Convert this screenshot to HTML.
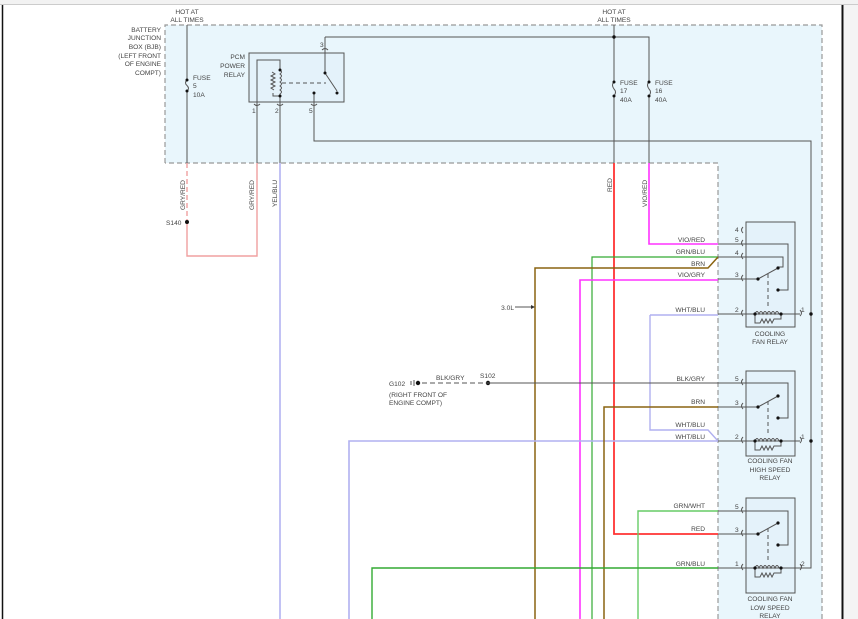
<!DOCTYPE html>
<html><head><meta charset="utf-8"><style>
html,body{margin:0;padding:0;background:#fff;}
svg{display:block;}
text{font-family:"Liberation Sans",sans-serif;font-size:6.6px;fill:#444;}
</style></head><body>
<svg width="858" height="619" viewBox="0 0 858 619" xmlns="http://www.w3.org/2000/svg">
<rect x="0" y="0" width="858" height="4" fill="#f2f2f2"/>
<line x1="0" y1="4.5" x2="858" y2="4.5" stroke="#ccc" stroke-width="1"/>
<line x1="2.5" y1="5" x2="2.5" y2="619" stroke="#111" stroke-width="1.5"/>
<line x1="842.5" y1="5" x2="842.5" y2="619" stroke="#111" stroke-width="2"/>
<rect x="844" y="5" width="14" height="614" fill="#f4f4f4"/>

<polygon points="165,25 822,25 822,619 718,619 718,163 165,163" fill="#e9f6fc"/>
<path d="M165,163 L165,25 L822,25 L822,619 M718,619 L718,163 L165,163" fill="none" stroke="#999" stroke-width="1.2" stroke-dasharray="5,3"/>

<g stroke="#555" stroke-width="1" fill="none">
<path d="M187,25 V80 M187,91 V163"/>
<path d="M187,80 q-3,3 0,5.5 q3,3 0,5.5"/>
<rect x="249" y="53" width="95" height="49" fill="#e4f2fa"/>
<path d="M257,102 V60 H280 V70 M280,96 V102"/>
<path d="M272,72 l3,2 -4,2 4,2 -4,2 4,2 -4,2 4,2 -4,2 3,2"/>
<path d="M280,70 q3,2 0,4 q3,2 0,4 q3,2 0,4 q3,2 0,4 q3,2 0,4 q3,2 0,4 V96 H273 V93"/>
<path d="M282,83 H326" stroke-dasharray="4,3"/>
<path d="M325,53 V73 L337,91 M314,102 V92"/>
<path d="M325,37 H649 V82 M649,96 V163 M614,25 V82 M614,96 V163"/>
<path d="M325,53 V37"/>
<path d="M314,102 V141 H811 V568 H800"/>
<path d="M614,82 q-3,3 0,7 q3,3 0,7 M649,82 q-3,3 0,7 q3,3 0,7"/>
<path d="M254,104 q3,3 6,0 M277,104 q3,3 6,0 M311,104 q3,3 6,0 M322,50 q3,-3 6,0"/>
<path d="M257,163 V102 M280,163 V102"/>
</g>
<g fill="#111">
<circle cx="187" cy="80" r="1.5"/><circle cx="187" cy="91" r="1.5"/>
<circle cx="614" cy="37" r="1.7"/>
<circle cx="614" cy="82" r="1.5"/><circle cx="614" cy="96" r="1.5"/>
<circle cx="649" cy="82" r="1.5"/><circle cx="649" cy="96" r="1.5"/>
<circle cx="280" cy="70" r="1.5"/><circle cx="280" cy="96" r="1.5"/>
<circle cx="325" cy="73" r="1.5"/><circle cx="337" cy="93" r="1.5"/><circle cx="314" cy="93" r="1.5"/>
<circle cx="418" cy="383" r="2.2"/><circle cx="488" cy="383" r="2.2"/>
<circle cx="811" cy="314" r="1.7"/><circle cx="811" cy="441" r="1.7"/>
</g>

<g fill="none" stroke-width="1.4">
<path d="M187,163 V222" stroke="#f0a0a0" stroke-dasharray="5,3"/>
<path d="M187,222 V256 H257 V163" stroke="#f0a0a0"/>
<path d="M280,163 V619" stroke="#a8a8f0"/>
<path d="M614,163 V534 H718" stroke="#f33" stroke-width="1.8"/>
<path d="M649,163 V244 H718" stroke="#f3f" stroke-width="1.6"/>
<path d="M592,619 V257 H718" stroke="#3a3" stroke-width="1.2"/>
<path d="M535,619 V268 H708 L718,257" stroke="#8a6410" stroke-width="1.5"/>
<path d="M580,619 V280 H718" stroke="#f3f" stroke-width="1.6"/>
<path d="M650,315 H718 M650,315 V430 H708 L718,441" stroke="#b0b0f0" stroke-width="1.4"/>
<path d="M349,619 V441 H718" stroke="#b0b0f0" stroke-width="1.6"/>
<path d="M604,619 V407 H718" stroke="#8a6410" stroke-width="1.5"/>
<path d="M638,619 V511 H718" stroke="#6c6" stroke-width="1.4"/>
<path d="M372,619 V568 H718" stroke="#3a3" stroke-width="1.4"/>
</g>
<circle cx="187" cy="222" r="2" fill="#111"/>
<g stroke="#555" stroke-width="1" fill="none">
<path d="M488,383 H718"/>
<path d="M422,383 H488" stroke-dasharray="5,3"/>
<path d="M414,380 v6 M411,381 v4"/>
<path d="M515,307 H533"/>
</g>
<polygon points="535,307 531,305 531,309" fill="#333"/>

<g stroke="#555" stroke-width="1" fill="none">
<rect x="746" y="222" width="49" height="105" fill="#e4f2fa"/>
<path d="M718,244 H788 V290 H778 M718,257 H783 V267 H778"/>
<path d="M718,279 H758 L778,268"/>
<path d="M718,314 H800"/>
<path d="M768,274 V306" stroke-dasharray="4,3"/>
<path d="M755,314 q2,-5 4,0 q2,-5 4,0 q2,-5 4,0 q2,-5 4,0 q2,-5 4,0 q2,-5 4,0 M755,314 V323 H760 l2,-4 2,4 2,-4 2,4 2,-4 2,4 2,-4 H781 V314"/>
<path d="M743,227 q-3,3 0,6 M743,240 q-3,3 0,6 M743,253 q-3,3 0,6 M743,275 q-3,3 0,6 M743,310 q-3,3 0,6 M800,310 q3,3 0,6"/>
<rect x="746" y="371" width="49" height="85" fill="#e4f2fa"/>
<path d="M718,383 H788 V418 H778"/>
<path d="M718,407 H758 L778,396"/>
<path d="M768,401 V433" stroke-dasharray="4,3"/>
<path d="M718,441 H800"/>
<path d="M755,441 q2,-5 4,0 q2,-5 4,0 q2,-5 4,0 q2,-5 4,0 q2,-5 4,0 q2,-5 4,0 M755,441 V450 H760 l2,-4 2,4 2,-4 2,4 2,-4 2,4 2,-4 H781 V441"/>
<path d="M743,379 q-3,3 0,6 M743,403 q-3,3 0,6 M743,437 q-3,3 0,6 M800,437 q3,3 0,6"/>
<rect x="746" y="498" width="49" height="95" fill="#e4f2fa"/>
<path d="M718,511 H788 V545 H778"/>
<path d="M718,534 H758 L778,523"/>
<path d="M768,528 V560" stroke-dasharray="4,3"/>
<path d="M718,568 H800"/>
<path d="M755,568 q2,-5 4,0 q2,-5 4,0 q2,-5 4,0 q2,-5 4,0 q2,-5 4,0 q2,-5 4,0 M755,568 V577 H760 l2,-4 2,4 2,-4 2,4 2,-4 2,4 2,-4 H781 V568"/>
<path d="M743,507 q-3,3 0,6 M743,530 q-3,3 0,6 M743,564 q-3,3 0,6 M800,564 q3,3 0,6"/>
</g>
<g fill="#111">
<circle cx="778" cy="290" r="1.6"/><circle cx="778" cy="268" r="1.6"/><circle cx="758" cy="279" r="1.6"/>
<circle cx="755" cy="314" r="1.6"/><circle cx="781" cy="314" r="1.6"/>
<circle cx="778" cy="418" r="1.6"/><circle cx="778" cy="396" r="1.6"/><circle cx="758" cy="407" r="1.6"/>
<circle cx="755" cy="441" r="1.6"/><circle cx="781" cy="441" r="1.6"/>
<circle cx="778" cy="545" r="1.6"/><circle cx="778" cy="523" r="1.6"/><circle cx="758" cy="534" r="1.6"/>
<circle cx="755" cy="568" r="1.6"/><circle cx="781" cy="568" r="1.6"/>
</g>

<g>
<text x="187" y="14" text-anchor="middle">HOT AT</text>
<text x="187" y="22" text-anchor="middle">ALL TIMES</text>
<text x="614" y="14" text-anchor="middle">HOT AT</text>
<text x="614" y="22" text-anchor="middle">ALL TIMES</text>
<g text-anchor="end">
<text x="161" y="32">BATTERY</text><text x="161" y="40">JUNCTION</text><text x="161" y="49">BOX (BJB)</text>
<text x="161" y="58">(LEFT FRONT</text><text x="161" y="66">OF ENGINE</text><text x="161" y="75">COMPT)</text>
<text x="245" y="59">PCM</text><text x="245" y="68">POWER</text><text x="245" y="77">RELAY</text>
</g>
<text x="193" y="80">FUSE</text><text x="193" y="88">5</text><text x="193" y="97">10A</text>
<text x="620" y="85">FUSE</text><text x="620" y="93">17</text><text x="620" y="102">40A</text>
<text x="655" y="85">FUSE</text><text x="655" y="93">16</text><text x="655" y="102">40A</text>
<text x="320" y="47">3</text><text x="252" y="113">1</text><text x="275" y="113">2</text><text x="309" y="113">5</text>
<text x="166" y="225">S140</text>
<text transform="translate(185,210) rotate(-90)">GRY/RED</text>
<text transform="translate(254,210) rotate(-90)">GRY/RED</text>
<text transform="translate(277,207) rotate(-90)">YEL/BLU</text>
<text transform="translate(612,192) rotate(-90)">RED</text>
<text transform="translate(647,207) rotate(-90)">VIO/RED</text>
<g text-anchor="end">
<text x="705" y="242">VIO/RED</text><text x="705" y="254">GRN/BLU</text><text x="705" y="266">BRN</text>
<text x="705" y="277">VIO/GRY</text><text x="705" y="312">WHT/BLU</text>
<text x="705" y="381">BLK/GRY</text><text x="705" y="404">BRN</text>
<text x="705" y="427">WHT/BLU</text><text x="705" y="439">WHT/BLU</text>
<text x="705" y="508">GRN/WHT</text><text x="705" y="531">RED</text><text x="705" y="566">GRN/BLU</text>
<text x="514" y="310">3.0L</text>
</g>
<g>
<text x="735" y="232">4</text><text x="735" y="242">5</text><text x="735" y="255">4</text><text x="735" y="277">3</text><text x="735" y="312">2</text><text x="801" y="312">1</text>
<text x="735" y="381">5</text><text x="735" y="405">3</text><text x="735" y="439">2</text><text x="801" y="439">1</text>
<text x="735" y="509">5</text><text x="735" y="532">3</text><text x="735" y="566">1</text><text x="801" y="566">2</text>
</g>
<g text-anchor="middle">
<text x="770" y="336">COOLING</text><text x="770" y="344">FAN RELAY</text>
<text x="770" y="463">COOLING FAN</text><text x="770" y="472">HIGH SPEED</text><text x="770" y="480">RELAY</text>
<text x="770" y="601">COOLING FAN</text><text x="770" y="610">LOW SPEED</text><text x="770" y="618">RELAY</text>
</g>
<text x="436" y="380">BLK/GRY</text>
<text x="480" y="378">S102</text>
<text x="389" y="386">G102</text>
<text x="389" y="397">(RIGHT FRONT OF</text>
<text x="389" y="405">ENGINE COMPT)</text>
</g>
</svg>
</body></html>
